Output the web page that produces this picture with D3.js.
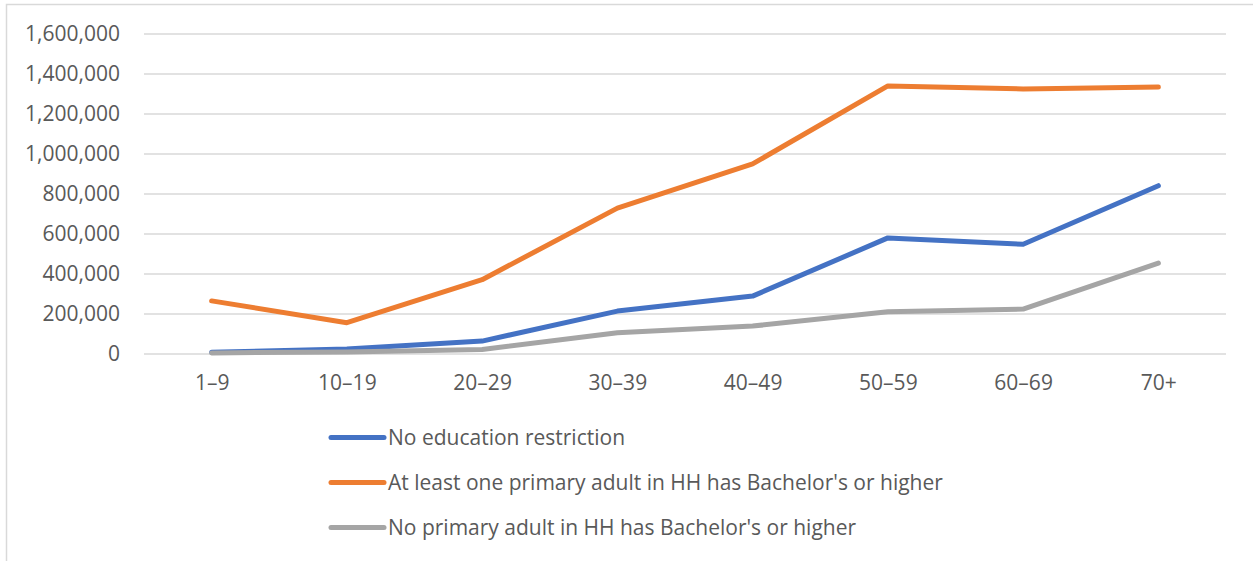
<!DOCTYPE html>
<html>
<head>
<meta charset="utf-8">
<script src="https://cdn.jsdelivr.net/npm/d3@7"></script>
<style>
  html, body { margin: 0; padding: 0; background: #fff; }
  svg { display: block; }
  text { font-family: "Open Sans", "Liberation Sans", sans-serif; fill: #595959; }
</style>
</head>
<body>
<svg id="chart" width="1253" height="561"></svg>
<script>
// Age groups along the x axis
const categories = ["1–9", "10–19", "20–29", "30–39", "40–49", "50–59", "60–69", "70+"];

// Series values per age group
const noRestriction = [6000, 22000, 62000, 212000, 287000, 578000, 546000, 839000];
const bachelorsOrHigher = [263000, 154000, 369000, 727000, 948000, 1338000, 1323000, 1332000];
const noBachelors = [3000, 8000, 20000, 104000, 137000, 209000, 222000, 452000];

const seriesNames = [
  "No education restriction",
  "At least one primary adult in HH has Bachelor's or higher",
  "No primary adult in HH has Bachelor's or higher"
];

const yTicks = [0, 200000, 400000, 600000, 800000, 1000000, 1200000, 1400000, 1600000];

const series = [
  { name: seriesNames[0], values: noRestriction, color: "#4472C4" },
  { name: seriesNames[1], values: bachelorsOrHigher, color: "#ED7D31" },
  { name: seriesNames[2], values: noBachelors, color: "#A5A5A5" }
];

const svg = d3.select("#chart");

// Outer chart frame
svg.append("rect")
  .attr("x", 6.5).attr("y", 4.5)
  .attr("width", 1260).attr("height", 570)
  .attr("fill", "#fff")
  .attr("stroke", "#D9D9D9")
  .attr("stroke-width", 1.5);

const plot = { left: 144, right: 1226, top: 33.5, bottom: 353.5 };

const x = d3.scalePoint()
  .domain(categories)
  .range([plot.left, plot.right])
  .padding(0.5);

const y = d3.scaleLinear()
  .domain([0, 1600000])
  .range([plot.bottom, plot.top]);

// Horizontal gridlines and value labels
const yAxis = svg.append("g")
  .attr("transform", `translate(${plot.left},0)`)
  .call(d3.axisLeft(y)
    .tickValues(yTicks)
    .tickSize(-(plot.right - plot.left))
    .tickPadding(24)
    .tickFormat(d3.format(",")));
yAxis.select(".domain").remove();
yAxis.selectAll(".tick line").attr("stroke", "#D9D9D9").attr("stroke-width", 1.5);
yAxis.selectAll(".tick text")
  .attr("font-size", 21)
  .attr("font-family", "'Open Sans', 'Liberation Sans', sans-serif")
  .attr("fill", "#595959");

// Category labels
const xAxis = svg.append("g")
  .attr("transform", `translate(0,${plot.bottom})`)
  .call(d3.axisBottom(x).tickSize(0).tickPadding(22));
xAxis.select(".domain").remove();
xAxis.selectAll(".tick text")
  .attr("font-size", 21)
  .attr("font-family", "'Open Sans', 'Liberation Sans', sans-serif")
  .attr("fill", "#595959");

// Series lines
const line = d3.line()
  .x((d, i) => x(categories[i]))
  .y(d => y(d));

svg.append("g")
  .selectAll("path")
  .data(series)
  .join("path")
  .attr("d", d => line(d.values))
  .attr("fill", "none")
  .attr("stroke", d => d.color)
  .attr("stroke-width", 5)
  .attr("stroke-linejoin", "round")
  .attr("stroke-linecap", "round");

// Legend
const legend = svg.append("g")
  .selectAll("g")
  .data(series)
  .join("g")
  .attr("transform", (d, i) => `translate(331,${437.5 + i * 45})`);

legend.append("line")
  .attr("x1", 0).attr("x2", 53)
  .attr("stroke", d => d.color)
  .attr("stroke-width", 5)
  .attr("stroke-linecap", "round");

legend.append("text")
  .attr("x", 57)
  .attr("y", 7.5)
  .attr("font-size", 21)
  .text(d => d.name);
</script>
</body>
</html>
